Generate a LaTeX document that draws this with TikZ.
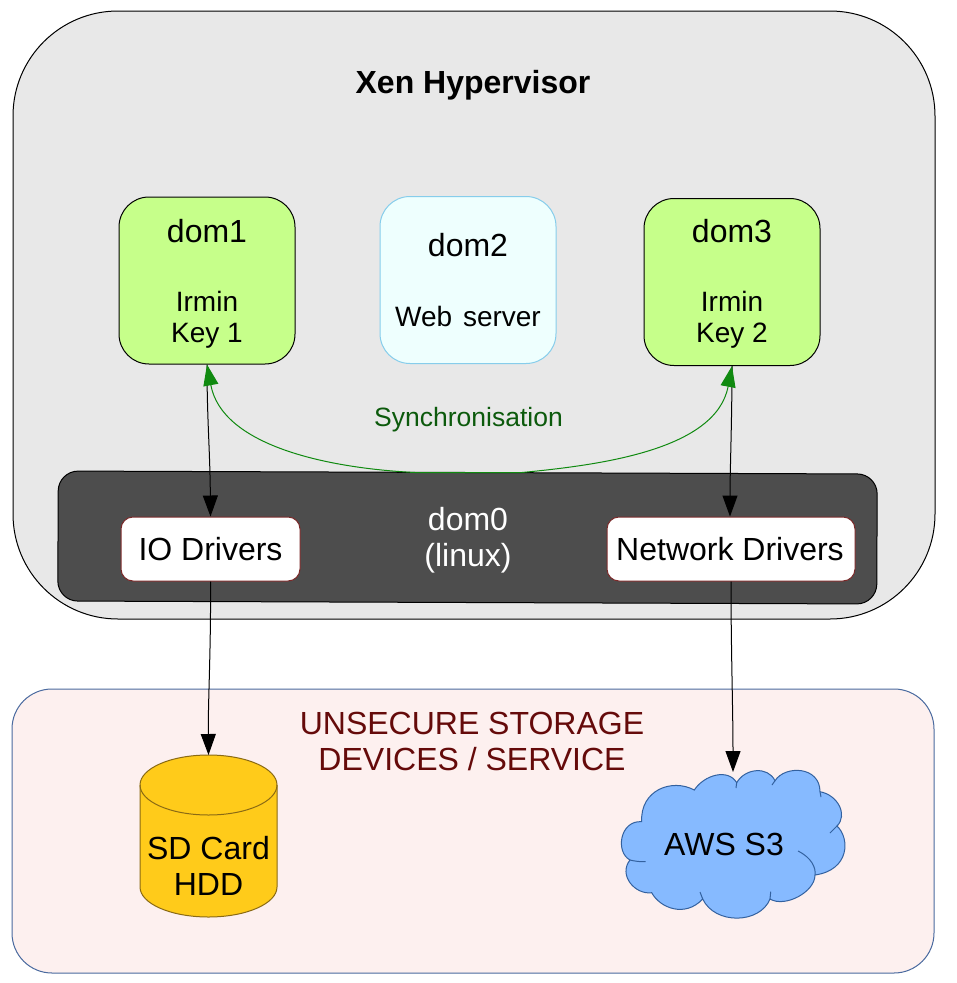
\documentclass[tikz,border=0pt]{standalone}
\usepackage{fontspec}
\setmainfont{Liberation Sans}
\usetikzlibrary{arrows.meta,calc}
\definecolor{outerfill}{HTML}{E8E8E8}
\definecolor{domgreen}{HTML}{C6FF8A}
\definecolor{domblue}{HTML}{EEFFFE}
\definecolor{domblueline}{HTML}{86CDEB}
\definecolor{darkfill}{HTML}{4D4D4D}
\definecolor{drvline}{HTML}{7B2A2A}
\definecolor{storefill}{HTML}{FDF0EF}
\definecolor{storeline}{HTML}{4A6A9F}
\definecolor{storetext}{HTML}{650A0A}
\definecolor{hddfill}{HTML}{FFCB1A}
\definecolor{hddline}{HTML}{8A6A14}
\definecolor{cloudfill}{HTML}{86BAFF}
\definecolor{cloudline}{HTML}{33619F}
\definecolor{syncline}{HTML}{108A10}
\definecolor{synctext}{HTML}{0C5A0C}
\newcommand{\fsA}{\fontsize{32}{36}\selectfont}
\newcommand{\fsB}{\fontsize{28}{31}\selectfont}
\tikzset{
  region/.style={draw=black,line width=1pt,fill=outerfill,rounded corners=105pt,minimum width=922pt,minimum height=608pt,inner sep=0pt},
  store/.style={draw=storeline,line width=1pt,fill=storefill,rounded corners=40pt,minimum width=922pt,minimum height=284pt,inner sep=0pt},
  domgr/.style={draw=black,line width=1pt,fill=domgreen,rounded corners=30pt,minimum width=176pt,minimum height=167pt,inner sep=0pt,align=center,font=\fsB},
  dombl/.style={draw=domblueline,line width=1pt,fill=domblue,rounded corners=30pt,minimum width=176pt,minimum height=167pt,inner sep=0pt,align=center,font=\fsB},
  dark/.style={draw=black,line width=1pt,fill=darkfill,rounded corners=20pt,minimum width=819pt,minimum height=130pt,inner sep=0pt,rotate=-0.21},
  driver/.style={draw=drvline,line width=1pt,fill=white,rounded corners=12pt,minimum height=64pt,inner sep=0pt,font=\fsA},
  big/.style={font=\fsA,inner sep=0pt,align=center},
  link/.style={draw=black,line width=1pt},
  cloudedge/.style={draw=cloudline,line width=1pt},
  tipk/.tip={Triangle[length=21pt,width=15pt]},
}
\begin{document}
\begin{tikzpicture}[x=1pt,y=-1pt]
\useasboundingbox (0,0) rectangle (957,983);
\fill[white] (0,0) rectangle (957,983);
\node[region] (xen) at (474,315) {};
\node[big,font=\bfseries\fsA] (xentitle) at (473,85) {Xen Hypervisor};
\node[store] (storage) at (473,831) {};
\node[domgr] (dom1) at (207,280.5) {{\fsA\rule{0pt}{29pt}dom1}\\[38pt]Irmin\\Key 1};
\node[dombl] (dom2) at (468,280) {{\fsA dom2}\\[39pt]Web\hspace{3pt} server};
\node[domgr] (dom3) at (732,282) {{\fsA\rule{0pt}{27pt}dom3}\\[38pt]Irmin\\Key 2};
\node[dark] (dom0) at (467.5,537.5) {};
\node[big,text=white] (dom0label) at (468,540) {dom0\\(linux)};
\node[driver,minimum width=179pt] (io) at (210.5,549) {IO Drivers};
\node[driver,minimum width=248pt] (net) at (731,549) {\hspace{-2pt}Network Drivers};
\node[font=\fontsize{26.5}{30}\selectfont,text=synctext,inner sep=0pt] (sync) at (468.5,420) {Synchronisation};
\node[big,text=storetext] (storelabel) at (472,741) {UNSECURE STORAGE\\DEVICES / SERVICE};
% cylinder
\coordinate (hddtop) at (208.5,755);
\draw[draw=hddline,line width=1pt,fill=hddfill] (140,785)
  .. controls (140,768.5) and (170.5,755) .. (hddtop)
  .. controls (246.5,755) and (277,768.5) .. (277,785)
  -- (277,887)
  .. controls (277,903.5) and (246.5,917) .. (208.5,917)
  .. controls (170.5,917) and (140,903.5) .. (140,887) -- cycle;
\draw[draw=hddline,line width=1pt] (140,785)
  .. controls (140,801.5) and (170.5,815) .. (208.5,815)
  .. controls (246.5,815) and (277,801.5) .. (277,785);
\node[big] (hddlabel) at (208.5,866) {SD Card\\HDD};
% cloud
\coordinate (cloudtop) at (733,772);
\draw[cloudedge,fill=cloudfill] (694.3,790)
  .. controls (704,775) and (728,768) .. (736.7,782.7)
  .. controls (745,768) and (768,766) .. (775,780.7)
  .. controls (785,765) and (820,766) .. (820,791.7)
  .. controls (838,795) and (848,815) .. (837,826)
  .. controls (850,838) and (850,870) .. (815,875)
  .. controls (815,892) and (785,908) .. (770,899)
  .. controls (760,924) and (715,925) .. (702.7,899)
  .. controls (685,918) and (660,908) .. (651.7,892.7)
  .. controls (635,895) and (618,875) .. (630,860)
  .. controls (615,852) and (620,820) .. (641.7,821.7)
  .. controls (640,790) and (672,778) .. (694.3,790) -- cycle;
\draw[cloudedge] (630,860) .. controls (634,861) and (640,862) .. (645.7,861.7);
\draw[cloudedge] (815,875) .. controls (816,868) and (812,858) .. (798,851);
\draw[cloudedge] (838,825) -- (830,833);
\draw[cloudedge] (770,899) -- (770.7,891.7);
\draw[cloudedge] (702.7,899) -- (700,892);
\draw[cloudedge] (736.7,782.7) -- (736,788);
\draw[cloudedge] (775,780.7) -- (772,785);
\draw[cloudedge] (820,791.7) -- (821,797);
\node[big,font=\fontsize{32}{36}\selectfont] (aws) at (724,844) {AWS S3};
% connectors
\draw[link,-tipk] (dom1.south) .. controls (207,420) and (210,450) .. (io.north);
\draw[link,-tipk] (dom3.south) .. controls (732,420) and (730,470) .. ($(net.north)+(-1,0)$);
\draw[link,-tipk] (io.south) .. controls (211,650) and (208,700) .. (hddtop);
\draw[link,-tipk] (net.south) .. controls (731,650) and (733,710) .. (cloudtop);
\coordinate (syncL) at (415,472.5);
\coordinate (syncR) at (522,472.5);
\draw[syncline,line width=1pt,tipk-tipk]
  (dom1.south) .. controls (222,445) and (325,468) .. (syncL) -- (syncR) .. controls (600,465) and (716,450) .. (dom3.south);
\end{tikzpicture}
\end{document}
